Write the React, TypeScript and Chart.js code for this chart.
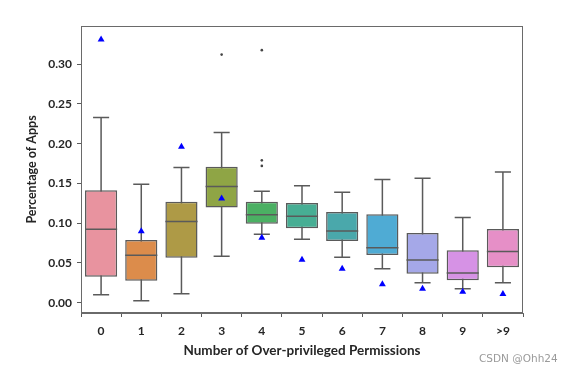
import React, { useEffect, useRef } from "react";
import { Chart, registerables } from "chart.js";

Chart.register(...registerables);

const categories = ["0", "1", "2", "3", "4", "5", "6", "7", "8", "9", ">9"];
const whiskerLow = [0.0101, 0.0025, 0.0113, 0.0584, 0.086, 0.0797, 0.0571, 0.0428, 0.0252, 0.0176, 0.0252];
const q1 = [0.0327, 0.0277, 0.0566, 0.1196, 0.0994, 0.0936, 0.0776, 0.06, 0.0365, 0.0282, 0.0445];
const medians = [0.0923, 0.0596, 0.102, 0.146, 0.1107, 0.1087, 0.0902, 0.0692, 0.0537, 0.0374, 0.0642];
const q3 = [0.1414, 0.0789, 0.127, 0.171, 0.127, 0.1255, 0.1141, 0.1112, 0.0877, 0.0659, 0.0927];
const whiskerHigh = [0.233, 0.149, 0.17, 0.214, 0.14, 0.147, 0.139, 0.155, 0.1565, 0.107, 0.1645];
const means = [0.331, 0.0898, 0.196, 0.131, 0.0818, 0.054, 0.0428, 0.0231, 0.0176, 0.0138, 0.011];
const outlierCats = ["3", "4", "4", "4"];
const outlierValues = [0.312, 0.3176, 0.179, 0.172];
const boxColors = [
  "#e8939f", "#dc8c4b", "#ae9a46", "#8fa545", "#4bb063", "#47ae94",
  "#4aa8ab", "#4fabd4", "#a5a8e8", "#d692e5", "#e68fc7",
];
const yTicks = [0, 0.05, 0.1, 0.15, 0.2, 0.25, 0.3];

const LINE = "#5a5a5a";
const FONT = "Lato, 'Open Sans', sans-serif";

const boxPlugin = {
  id: "boxParts",
  beforeDatasetsDraw(chart: any) {
    const { ctx, scales } = chart;
    const x = scales.x;
    const y = scales.y;
    const meta = chart.getDatasetMeta(0);
    ctx.save();
    ctx.strokeStyle = LINE;
    ctx.lineWidth = 1.5;
    categories.forEach((_, i) => {
      const cx = x.getPixelForValue(i);
      const bw = meta.data[i] ? meta.data[i].width : 30;
      const cap = bw / 4;
      const yl = y.getPixelForValue(whiskerLow[i]);
      const yh = y.getPixelForValue(whiskerHigh[i]);
      ctx.beginPath();
      ctx.moveTo(cx, yl);
      ctx.lineTo(cx, yh);
      ctx.moveTo(cx - cap, yl);
      ctx.lineTo(cx + cap, yl);
      ctx.moveTo(cx - cap, yh);
      ctx.lineTo(cx + cap, yh);
      ctx.stroke();
    });
    ctx.restore();
  },
  afterDatasetDraw(chart: any, args: any) {
    if (args.index !== 0) return;
    const { ctx, scales } = chart;
    const x = scales.x;
    const y = scales.y;
    const meta = chart.getDatasetMeta(0);
    ctx.save();
    ctx.strokeStyle = LINE;
    ctx.lineWidth = 1.5;
    categories.forEach((_, i) => {
      const cx = x.getPixelForValue(i);
      const bw = meta.data[i] ? meta.data[i].width : 30;
      const ym = y.getPixelForValue(medians[i]);
      ctx.beginPath();
      ctx.moveTo(cx - bw / 2, ym);
      ctx.lineTo(cx + bw / 2, ym);
      ctx.stroke();
    });
    ctx.restore();
  },
  afterDraw(chart: any) {
    const { ctx, chartArea } = chart;
    ctx.save();
    ctx.strokeStyle = "#6a6a6a";
    ctx.lineWidth = 1;
    ctx.strokeRect(chartArea.left + 0.5, chartArea.top + 0.5, chartArea.right - chartArea.left - 1, chartArea.bottom - chartArea.top - 1);
    ctx.restore();
  },
};

export default function App() {
  const ref = useRef<HTMLCanvasElement>(null);
  useEffect(() => {
    if (!ref.current) return;
    const chart = new Chart(ref.current, {
      type: "bar",
      data: {
        labels: categories,
        datasets: [
          {
            type: "bar",
            data: categories.map((_, i) => [q1[i], q3[i]]) as any,
            backgroundColor: boxColors,
            borderColor: LINE,
            borderWidth: 1.5,
            borderSkipped: false,
            barPercentage: 0.8,
            categoryPercentage: 1,
            order: 3,
          },
          {
            type: "line",
            data: means as any,
            showLine: false,
            pointStyle: "triangle",
            pointRadius: 4,
            backgroundColor: "#0000ff",
            borderColor: "#0000ff",
            borderWidth: 0,
            order: 1,
          },
          {
            type: "line",
            data: outlierCats.map((c, i) => ({ x: c, y: outlierValues[i] })) as any,
            showLine: false,
            pointStyle: "circle",
            pointRadius: 1.3,
            backgroundColor: "#444444",
            borderColor: "#444444",
            borderWidth: 0,
            order: 2,
          },
        ],
      },
      options: {
        responsive: false,
        animation: false,
        layout: { padding: { top: 26, right: 44, left: 0, bottom: 0 } },
        plugins: { legend: { display: false }, tooltip: { enabled: false } },
        scales: {
          x: {
            type: "category",
            offset: true,
            grid: { display: true, drawOnChartArea: false, drawTicks: true, tickLength: 4, color: LINE },
            border: { display: true, color: "#6a6a6a" },
            ticks: { color: "#262626", font: { family: FONT, size: 12, weight: "bold" }, padding: 7 },
            title: {
              display: true,
              text: "Number of Over-privileged Permissions",
              color: "#262626",
              font: { family: FONT, size: 13.5, weight: "bold" },
              padding: { top: 0, bottom: 12 },
            },
            afterFit(scale: any) {
              scale.height = 58;
            },
          },
          y: {
            type: "linear",
            min: -0.013,
            max: 0.348,
            grid: { display: true, drawOnChartArea: false, drawTicks: true, tickLength: 4, color: LINE },
            border: { display: true, color: "#6a6a6a" },
            afterBuildTicks(scale: any) {
              scale.ticks = yTicks.map((v) => ({ value: v }));
            },
            ticks: {
              color: "#262626",
              font: { family: FONT, size: 12, weight: "bold" },
              padding: 5,
              callback: (v: any) => Number(v).toFixed(2),
            },
            title: {
              display: true,
              text: "Percentage of Apps",
              color: "#262626",
              font: { family: FONT, size: 12.5, weight: "bold" },
              padding: { top: 24, bottom: 0 },
            },
            afterFit(scale: any) {
              scale.width = 81;
            },
          },
        },
      },
      plugins: [boxPlugin],
    });
    return () => chart.destroy();
  }, []);
  return (
    <div style={{ position: "absolute", left: 0, top: 0, width: 567, height: 371, background: "#fff" }}>
      <canvas ref={ref} width={567} height={371} style={{ width: 567, height: 371 }} />
      <div
        style={{
          position: "absolute",
          left: 479,
          top: 352,
          fontFamily: "'DejaVu Sans', sans-serif",
          fontSize: 10.5,
          color: "#9a9a9a",
          whiteSpace: "nowrap",
        }}
      >
        CSDN @Ohh24
      </div>
    </div>
  );
}
